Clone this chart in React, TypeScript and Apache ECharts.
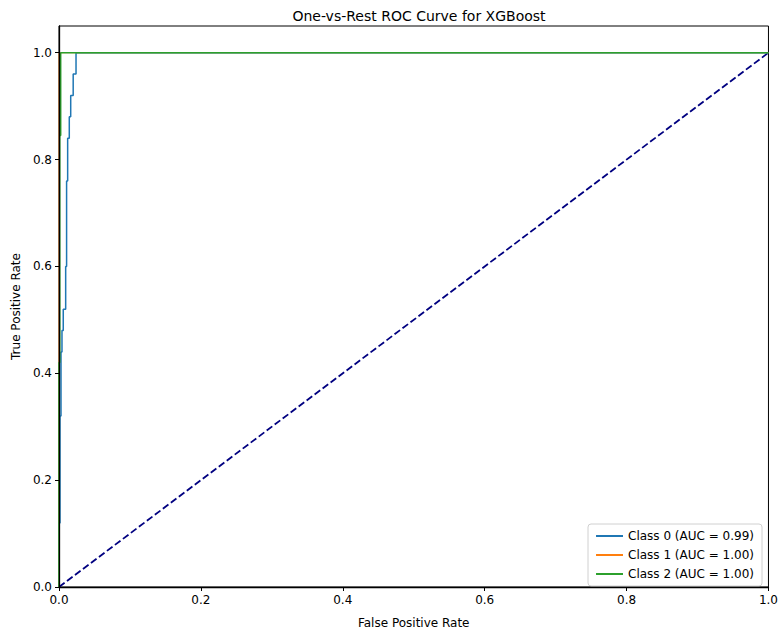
import React, { useEffect, useRef } from "react";
import * as echarts from "echarts";

// ROC points per class (false positive rate, true positive rate)
const class0Fpr = [0, 0, 0.0014, 0.0014, 0.0028, 0.0028, 0.0042, 0.0042, 0.006, 0.006, 0.0094, 0.0094, 0.0107, 0.0107, 0.0122, 0.0122, 0.0145, 0.0145, 0.0165, 0.0165, 0.02, 0.02, 0.024, 0.024, 1];
const class0Tpr = [0, 0.12, 0.12, 0.32, 0.32, 0.44, 0.44, 0.48, 0.48, 0.52, 0.52, 0.6, 0.6, 0.76, 0.76, 0.84, 0.84, 0.88, 0.88, 0.92, 0.92, 0.96, 0.96, 1, 1];
const class1Fpr = [0, 0, 1];
const class1Tpr = [0, 1, 1];
const class2Fpr = [0, 0, 0.0011, 0.0011, 0.0024, 0.0024, 1];
const class2Tpr = [0, 0.42, 0.42, 0.845, 0.845, 1, 1];
const chanceFpr = [0, 1];
const chanceTpr = [0, 1];

const seriesNames = ["Class 0 (AUC = 0.99)", "Class 1 (AUC = 1.00)", "Class 2 (AUC = 1.00)"];
const seriesColors = ["#1f77b4", "#ff7f0e", "#2ca02c"];
const tickValues = [0, 0.2, 0.4, 0.6, 0.8, 1.0];

const pairs = (xs: number[], ys: number[]) => xs.map((x, i) => [x, ys[i]]);

const FONT = "DejaVu Sans";

export default function App() {
  const ref = useRef<HTMLDivElement>(null);
  useEffect(() => {
    if (!ref.current) return;
    const chart = echarts.init(ref.current, undefined, { renderer: "svg" });
    const axisCommon = {
      type: "value" as const,
      z: 20,
      axisLine: { show: true, onZero: false, lineStyle: { color: "#000", width: 1.3 } },
      axisTick: { show: true, inside: false, length: 4, lineStyle: { color: "#000" } },
      splitLine: { show: false },
      nameLocation: "middle" as const,
      nameTextStyle: { fontFamily: FONT, fontSize: 12, color: "#000" },
    };
    const curves = [
      pairs(class0Fpr, class0Tpr),
      pairs(class1Fpr, class1Tpr),
      pairs(class2Fpr, class2Tpr),
    ];
    chart.setOption({
      animation: false,
      backgroundColor: "#fff",
      title: {
        text: "One-vs-Rest ROC Curve for XGBoost",
        left: 414,
        top: 4,
        textAlign: "center",
        textStyle: { fontFamily: FONT, fontSize: 14, fontWeight: "normal", color: "#000" },
      },
      grid: { left: 59, right: 12, top: 26, bottom: 42, containLabel: false, show: true, borderColor: "#000", borderWidth: 1 },
      xAxis: {
        ...axisCommon,
        min: 0,
        max: 1,
        interval: 0.2,
        name: "False Positive Rate",
        nameGap: 30,
        axisLabel: {
          fontFamily: FONT,
          fontSize: 12,
          color: "#000",
          margin: 7,
          formatter: (v: number) => (tickValues.some((t) => Math.abs(t - v) < 1e-9) ? v.toFixed(1) : ""),
        },
      },
      yAxis: {
        ...axisCommon,
        min: 0,
        max: 1.05,
        interval: 0.2,
        name: "True Positive Rate",
        nameGap: 37,
        axisLabel: {
          fontFamily: FONT,
          fontSize: 12,
          color: "#000",
          margin: 7,
          showMaxLabel: false,
          formatter: (v: number) => (v <= 1.0001 ? v.toFixed(1) : ""),
        },
      },
      legend: {
        right: 19,
        bottom: 48,
        orient: "vertical",
        itemWidth: 27,
        itemHeight: 2,
        itemGap: 7,
        padding: [6, 8, 6, 8],
        borderColor: "#d0d0d0",
        borderWidth: 1,
        borderRadius: 3,
        backgroundColor: "rgba(255,255,255,0.8)",
        textStyle: { fontFamily: FONT, fontSize: 12, color: "#000" },
        data: seriesNames.map((n, i) => ({ name: n, icon: "rect", itemStyle: { color: seriesColors[i] } })),
      },
      series: [
        ...curves.map((d, i) => ({
          type: "line",
          name: seriesNames[i],
          data: d,
          showSymbol: false,
          symbol: "none",
          color: seriesColors[i],
          lineStyle: { color: seriesColors[i], width: i === 1 ? 0.8 : 1.5 },
          clip: true,
          z: 3 + i,
        })),
        {
          type: "line",
          name: "chance",
          data: pairs(chanceFpr, chanceTpr),
          symbol: "none",
          lineStyle: { color: "#000080", width: 1.8, type: [7, 3] },
          z: 2,
        },
      ],
    });
    return () => chart.dispose();
  }, []);
  return <div ref={ref} style={{ width: 781, height: 634, position: "absolute", left: 0, top: 0 }} />;
}
